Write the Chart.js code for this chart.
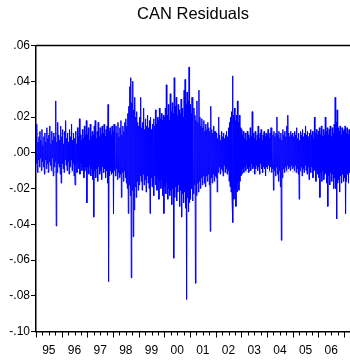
<!DOCTYPE html>
<html>
<head>
<meta charset="utf-8">
<script src="https://cdn.jsdelivr.net/npm/chart.js@4/dist/chart.umd.min.js"></script>
<style>
  html, body { margin: 0; padding: 0; background: #fff; overflow: hidden; }
  canvas { display: block; }
</style>
</head>
<body>
<canvas id="resid" width="350" height="362"></canvas>
<script>
// residuals, weekly high/low pairs, one array per year
const r1995 = [.010,-.006,.016,-.011,.006,-.004,.009,-.008,.012,-.003,.007,-.010,.013,-.005,.004,-.008,.009,-.012,.011,-.004,.006,-.009,.014,-.006,.008,-.011,
  .010,-.005,.015,-.007,.005,-.010,.012,-.003,.007,-.013,.011,-.008,.009,-.005,.029,-.041,.006,-.011,.017,-.006,.010,-.008,.007,-.012,.015,-.017];
const r1996 = [.009,-.006,.013,-.009,.005,-.011,.012,-.004,.018,-.007,.008,-.010,.011,-.005,.006,-.012,.013,-.008,.009,-.004,.016,-.010,.007,-.006,.011,-.013,
  .008,-.018,.012,-.007,.005,-.011,.014,-.005,.009,-.009,.019,-.012,.010,-.006,.007,-.010,.013,-.008,.008,-.014,.015,-.010,.010,-.008,.018,-.028];
const r1997 = [.010,-.008,.014,-.012,.007,-.007,.016,-.013,.009,-.009,.012,-.015,.010,-.036,.015,-.010,.018,-.014,.008,-.009,.012,-.016,.017,-.008,.009,-.012,
  .014,-.010,.010,-.015,.015,-.008,.011,-.011,.016,-.009,.009,-.014,.013,-.010,.015,-.017,.027,-.072,.012,-.013,.014,-.010,.010,-.012,.015,-.011];
const r1998 = [.012,-.034,.016,-.010,.010,-.013,.015,-.009,.011,-.015,.017,-.011,.009,-.014,.014,-.012,.018,-.025,.010,-.011,.015,-.016,.012,-.010,.017,-.014,
  .019,-.017,.015,-.020,.022,-.034,.026,-.018,.037,-.024,.042,-.070,.028,-.021,.040,-.047,.024,-.032,.031,-.019,.020,-.025,.023,-.016,.017,-.021];
const r1999 = [.015,-.018,.020,-.013,.031,-.016,.014,-.021,.017,-.012,.025,-.018,.013,-.015,.019,-.022,.015,-.013,.021,-.017,.014,-.020,.018,-.034,.020,-.014,
  .013,-.019,.016,-.015,.019,-.024,.015,-.013,.024,-.018,.016,-.021,.020,-.014,.018,-.026,.025,-.016,.019,-.020,.022,-.015,.018,-.024,.021,-.034];
const r2000 = [.020,-.019,.025,-.023,.038,-.017,.021,-.026,.027,-.020,.018,-.024,.033,-.021,.023,-.029,.028,-.020,.022,-.059,.042,-.025,.026,-.019,.031,-.027,
  .021,-.022,.027,-.018,.024,-.030,.022,-.021,.030,-.036,.025,-.023,.020,-.028,.035,-.022,.041,-.031,.027,-.082,.034,-.025,.029,-.033,.048,-.028];
const r2001 = [.027,-.026,.022,-.020,.031,-.027,.020,-.023,.025,-.018,.021,-.073,.018,-.024,.029,-.017,.017,-.022,.035,-.016,.020,-.020,.015,-.014,.019,-.018,
  .014,-.013,.018,-.017,.012,-.019,.016,-.013,.013,-.016,.017,-.012,.014,-.018,.012,-.044,.026,-.014,.013,-.017,.011,-.012,.015,-.016,.012,-.013];
const r2002 = [.012,-.014,.011,-.022,.008,-.011,.020,-.008,.010,-.012,.007,-.009,.012,-.010,.009,-.013,.011,-.007,.008,-.011,.010,-.009,.012,-.012,.009,-.010,
  .014,-.016,.017,-.019,.020,-.022,.023,-.025,.043,-.039,.021,-.026,.025,-.020,.018,-.030,.021,-.022,.029,-.017,.017,-.021,.021,-.016,.014,-.013];
const r2003 = [.013,-.012,.010,-.009,.012,-.011,.008,-.008,.011,-.010,.007,-.007,.012,-.009,.010,-.011,.008,-.008,.014,-.010,.009,-.006,.023,-.009,.011,-.008,
  .008,-.012,.012,-.009,.007,-.007,.010,-.010,.015,-.008,.008,-.012,.011,-.006,.013,-.009,.007,-.011,.010,-.008,.012,-.009,.009,-.013,.011,-.008];
const r2004 = [.010,-.009,.013,-.007,.008,-.010,.011,-.008,.014,-.011,.007,-.009,.010,-.021,.012,-.010,.009,-.013,.011,-.008,.020,-.012,.010,-.016,.012,-.010,
  .008,-.019,.011,-.049,.007,-.014,.013,-.009,.010,-.011,.012,-.008,.009,-.010,.015,-.007,.021,-.009,.011,-.008,.009,-.010,.012,-.007,.010,-.009];
const r2005 = [.011,-.008,.009,-.010,.012,-.007,.010,-.011,.014,-.009,.008,-.012,.011,-.026,.007,-.010,.012,-.008,.010,-.013,.013,-.009,.009,-.011,.011,-.007,
  .015,-.010,.010,-.012,.012,-.008,.009,-.015,.011,-.009,.013,-.011,.010,-.008,.012,-.014,.008,-.010,.020,-.009,.011,-.016,.013,-.010,.010,-.012];
const r2006 = [.012,-.014,.014,-.025,.010,-.011,.015,-.016,.009,-.010,.013,-.015,.010,-.012,.020,-.011,.012,-.017,.014,-.030,.010,-.013,.013,-.018,.015,-.011,
  .009,-.016,.014,-.012,.011,-.020,.016,-.014,.031,-.020,.017,-.037,.024,-.017,.014,-.015,.012,-.022,.015,-.013,.010,-.017,.014,-.012,.012,-.016];
const r2007 = [.013,-.014,.015,-.034,.011,-.016,.014,-.012,.010,-.017,.013,-.011];

const yearLabels = ['95','96','97','98','99','00','01','02','03','04','05','06'];
const bandUpper = 0.0107;
const bandLower = -0.0107;
const startYear = 1995;
const perYear = 52;

const residuals = [].concat(r1995, r1996, r1997, r1998, r1999, r2000, r2001, r2002, r2003, r2004, r2005, r2006, r2007);
const points = residuals.map((v, i) => ({ x: startYear + i / perYear, y: v }));
const endYear = startYear + residuals.length / perYear;

const font = { family: "'Liberation Sans', Arial, sans-serif", size: 12 };

// top border line plus quarterly tick marks under the date axis
const frame = {
  id: 'frame',
  afterDraw(chart) {
    const { ctx, chartArea } = chart;
    const xs = chart.scales.x;
    ctx.save();
    ctx.strokeStyle = '#000';
    ctx.lineWidth = 1.5;
    ctx.beginPath();
    ctx.moveTo(chartArea.left, chartArea.top);
    ctx.lineTo(chartArea.right, chartArea.top);
    ctx.stroke();
    ctx.lineWidth = 1;
    ctx.beginPath();
    for (let q = 0; q <= yearLabels.length * 4; q++) {
      const px = Math.round(xs.getPixelForValue(startYear + q / 4)) + 0.5;
      if (px > chartArea.right) break;
      ctx.moveTo(px, chartArea.bottom);
      ctx.lineTo(px, chartArea.bottom + (q % 4 === 0 ? 6 : 4));
    }
    ctx.stroke();
    ctx.restore();
  }
};

new Chart(document.getElementById('resid'), {
  type: 'line',
  data: {
    datasets: [{
      data: points,
      borderColor: '#0000ff',
      borderWidth: 1,
      pointRadius: 0,
      tension: 0,
      order: 1
    }, {
      data: [{ x: startYear, y: bandUpper }, { x: endYear, y: bandUpper }],
      borderColor: '#b4b4b4',
      borderWidth: 1,
      borderDash: [5, 3],
      pointRadius: 0,
      order: 2
    }, {
      data: [{ x: startYear, y: bandLower }, { x: endYear, y: bandLower }],
      borderColor: '#b4b4b4',
      borderWidth: 1,
      borderDash: [5, 3],
      pointRadius: 0,
      order: 2
    }]
  },
  options: {
    responsive: false,
    animation: false,
    devicePixelRatio: 1,
    parsing: false,
    layout: { padding: 0 },
    plugins: {
      legend: { display: false },
      tooltip: { enabled: false },
      title: {
        display: true,
        text: 'CAN Residuals',
        fullSize: false,
        color: '#000',
        font: { family: font.family, size: 16.5, weight: 'normal' },
        padding: { top: 5, bottom: 20.7 }
      }
    },
    scales: {
      x: {
        type: 'linear',
        min: startYear,
        max: endYear,
        grid: { display: false, drawTicks: false },
        border: { display: true, color: '#000', width: 1.5 },
        afterBuildTicks(scale) {
          scale.ticks = yearLabels.map((_, i) => ({ value: startYear + i + 0.5 }));
        },
        afterFit(scale) { scale.height = 30.5; },
        ticks: {
          autoSkip: false,
          maxRotation: 0,
          padding: 12,
          color: '#000',
          font: font,
          callback: (v, i) => yearLabels[i]
        }
      },
      y: {
        min: -0.10,
        max: 0.06,
        grid: { drawOnChartArea: false, tickLength: 5, tickColor: '#000' },
        border: { display: true, color: '#000', width: 1.5 },
        afterFit(scale) { scale.width = 36; },
        ticks: {
          stepSize: 0.02,
          padding: 1,
          color: '#000',
          font: font,
          callback: (v) => {
            if (Math.abs(v) < 1e-9) return '.00';
            return v.toFixed(2).replace('0.', '.');
          }
        }
      }
    }
  },
  plugins: [frame]
});
</script>
</body>
</html>
